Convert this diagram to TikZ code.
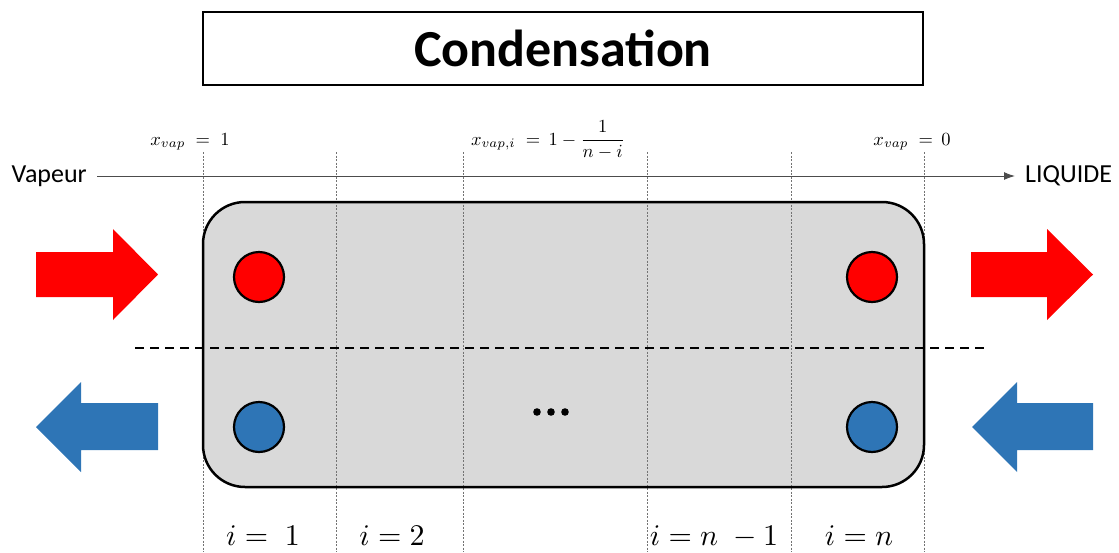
\documentclass[tikz,border=0pt]{standalone}
\usepackage{amsmath}
\usepackage{fontspec}
\setmainfont{Carlito}
\usetikzlibrary{arrows.meta,calc}
\definecolor{cred}{HTML}{FF0000}
\definecolor{cblue}{HTML}{2E75B6}
\definecolor{cgray}{HTML}{D9D9D9}
\tikzset{
  sep/.style={draw=black!55, line width=0.8pt, dash pattern=on 2pt off 1.5pt},
  port/.style={circle, draw=black, line width=2.2pt, minimum size=50pt, inner sep=0pt},
  toplab/.style={font=\fontsize{10}{12}\selectfont, anchor=base, scale=1.85},
  botlab/.style={font=\fontsize{10}{12}\selectfont, anchor=base, scale=3.0},
  sidelab/.style={font=\fontsize{26}{30}\selectfont, inner sep=0pt},
}
\begin{document}
\begin{tikzpicture}[x=1pt,y=-1pt]
\useasboundingbox (0,0) rectangle (1119,552);
% title
\node[draw=black, line width=1.6pt, minimum width=720pt, minimum height=73pt, inner sep=0pt,
      font=\fontsize{52}{60}\selectfont\bfseries] (title) at (563,48.5) {Condensation};
% axis
\node[sidelab, anchor=east] (vap) at (87,176) {Vapeur};
\node[sidelab, anchor=west] (liq) at (1025,176) {LIQUIDE};
\draw[line width=1pt, black!70, -{Latex[length=11pt,width=8pt]}, shorten <=10pt, shorten >=10pt] (vap.east) -- (liq.west);
% box fill
\fill[cgray, rounded corners=42pt] (203,202) rectangle (924,487);
% separators
\foreach \x/\n in {203/s0,336/s1,463/s2,647/s3,791/s4,924/s5}{
  \coordinate (\n t) at (\x,152);
  \coordinate (\n b) at (\x,552);
  \draw[sep] (\n t) -- (\n b);
}
\draw[black, line width=2.5pt, rounded corners=42pt] (203,202) rectangle (924,487);
% dashed middle line
\coordinate (dl) at (135,348);
\coordinate (dr) at (985,348);
\draw[black, line width=2.5pt, dash pattern=on 9pt off 6pt] (dl) -- (dr);
% ports
\node[port, fill=cred] (p1) at (259,277) {};
\node[port, fill=cred] (p2) at (872,277) {};
\node[port, fill=cblue] (p3) at (259,427) {};
\node[port, fill=cblue] (p4) at (872,427) {};
% dots
\foreach \x in {537,551,565} \fill (\x,412) circle (3.8pt);
% block arrows
\fill[cred] (36,252) -- (113,252) -- (113,229) -- (158,274.5) -- (113,320) -- (113,297) -- (36,297) -- cycle;
\fill[cred] (971,252) -- (1047,252) -- (1047,229) -- (1093,274.5) -- (1047,320) -- (1047,297) -- (971,297) -- cycle;
\fill[cblue] (158,403) -- (81,403) -- (81,382) -- (36,427) -- (81,472) -- (81,450) -- (158,450) -- cycle;
\fill[cblue] (1093,403) -- (1017,403) -- (1017,382) -- (972,427) -- (1017,472) -- (1017,450) -- (1093,450) -- cycle;
% top labels
\node[toplab] (t1) at (190,145) {$x_{vap}\;=\;1$};
\node[toplab] (t2) at (548,145) {$x_{vap,i}\;=\,1-\dfrac{1}{n-i}$};
\node[toplab] (t3) at (912,145) {$x_{vap}\;=\,0$};
% bottom labels
\node[botlab] (b1) at (263,545) {$i=\;1$};
\node[botlab] (b2) at (392,545) {$i=2$};
\node[botlab] (b3) at (714,545) {$i=n\;-1$};
\node[botlab] (b4) at (859,545) {$i=n$};
\end{tikzpicture}
\end{document}
